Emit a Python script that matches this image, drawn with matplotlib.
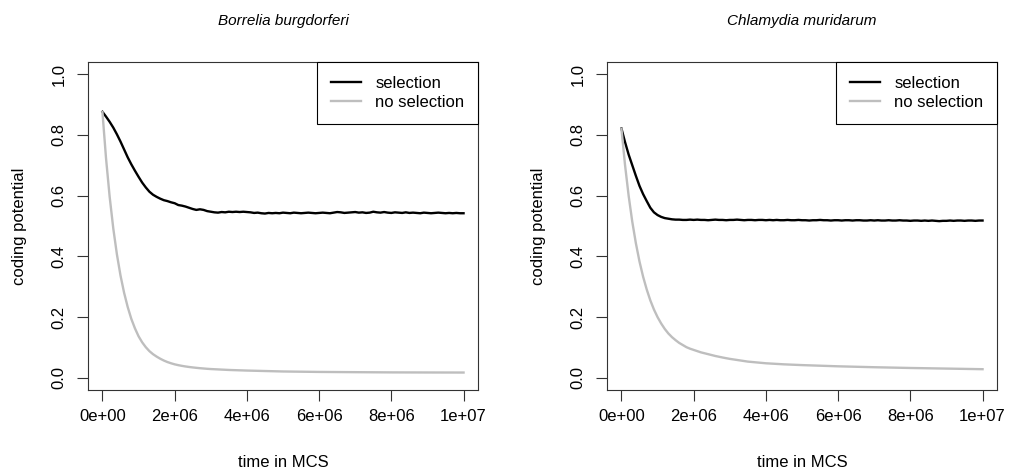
import numpy as np
import matplotlib
matplotlib.use('Agg')
import matplotlib.pyplot as plt

plt.rcParams['font.family'] = ['Liberation Sans', 'DejaVu Sans']

# ---------------- data ----------------
titles = ['Borrelia burgdorferi', 'Chlamydia muridarum']
series_labels = ['selection', 'no selection']
xlabel_text = 'time in MCS'
ylabel_text = 'coding potential'
xticks = [0, 2e6, 4e6, 6e6, 8e6, 1e7]
xtick_labels = ['0e+00', '2e+06', '4e+06', '6e+06', '8e+06', '1e+07']
yticks = [0.0, 0.2, 0.4, 0.6, 0.8, 1.0]
ytick_labels = ['0.0', '0.2', '0.4', '0.6', '0.8', '1.0']

# time (millions of MCS) for the "selection" runs, every 0.1e6
t_sel = [round(i * 0.1, 1) for i in range(101)]

borrelia_sel = [
    0.876, 0.860, 0.843, 0.824, 0.802, 0.778, 0.752, 0.726, 0.703, 0.682,
    0.662, 0.643, 0.627, 0.613, 0.603, 0.596, 0.590, 0.585, 0.582, 0.578,
    0.575, 0.569, 0.567, 0.564, 0.560, 0.556, 0.553, 0.555, 0.553, 0.549,
    0.547, 0.545, 0.544, 0.546, 0.545, 0.547, 0.546, 0.547, 0.546, 0.547,
    0.546, 0.545, 0.543, 0.544, 0.542, 0.541, 0.543, 0.542, 0.543, 0.542,
    0.544, 0.543, 0.542, 0.544, 0.543, 0.542, 0.543, 0.544, 0.543, 0.542,
    0.543, 0.544, 0.543, 0.542, 0.544, 0.546, 0.545, 0.543, 0.544, 0.545,
    0.546, 0.544, 0.545, 0.543, 0.544, 0.547, 0.545, 0.544, 0.546, 0.544,
    0.543, 0.545, 0.544, 0.543, 0.545, 0.543, 0.544, 0.543, 0.542, 0.544,
    0.543, 0.542, 0.543, 0.544, 0.543, 0.542, 0.543, 0.542, 0.543, 0.542,
    0.542,
]

chlamydia_sel = [
    0.821, 0.776, 0.735, 0.700, 0.665, 0.632, 0.605, 0.582, 0.560, 0.545,
    0.536, 0.530, 0.526, 0.524, 0.522, 0.521, 0.521, 0.520, 0.520, 0.521,
    0.520, 0.521, 0.520, 0.520, 0.519, 0.520, 0.521, 0.520, 0.520, 0.519,
    0.520, 0.520, 0.521, 0.520, 0.519, 0.520, 0.520, 0.519, 0.520, 0.520,
    0.519, 0.520, 0.519, 0.520, 0.519, 0.519, 0.520, 0.519, 0.519, 0.520,
    0.519, 0.519, 0.518, 0.519, 0.519, 0.520, 0.519, 0.519, 0.518, 0.519,
    0.519, 0.518, 0.519, 0.519, 0.518, 0.519, 0.519, 0.518, 0.518, 0.519,
    0.518, 0.519, 0.518, 0.518, 0.519, 0.518, 0.518, 0.519, 0.518, 0.518,
    0.517, 0.518, 0.518, 0.517, 0.518, 0.517, 0.518, 0.517, 0.516, 0.517,
    0.517, 0.518, 0.517, 0.518, 0.518, 0.517, 0.518, 0.518, 0.517, 0.518,
    0.518,
]

# time (millions of MCS) for the "no selection" runs
t_nosel = [0.0, 0.1, 0.2, 0.3, 0.4, 0.5, 0.6, 0.7, 0.8, 0.9,
           1.0, 1.1, 1.2, 1.3, 1.4, 1.5, 1.6, 1.7, 1.8, 1.9,
           2.0, 2.1, 2.2, 2.3, 2.4, 2.5, 2.6, 2.7, 2.8, 2.9,
           3.0, 3.5, 4.0, 4.5, 5.0, 6.0, 7.0, 8.0, 9.0, 10.0]

borrelia_nosel = [0.875, 0.722, 0.596, 0.492, 0.407, 0.337, 0.280, 0.233,
                  0.194, 0.163, 0.137, 0.117, 0.101, 0.088, 0.078, 0.070,
                  0.063, 0.057, 0.052, 0.048, 0.0445, 0.0418, 0.0395,
                  0.0375, 0.0358, 0.0343, 0.033, 0.0318, 0.0308, 0.0298,
                  0.029, 0.026, 0.024, 0.0225, 0.021, 0.0195, 0.0187,
                  0.018, 0.0177, 0.0175]

chlamydia_nosel = [0.820, 0.700, 0.599, 0.514, 0.443, 0.383, 0.333, 0.291,
                   0.255, 0.225, 0.200, 0.179, 0.161, 0.146, 0.134, 0.124,
                   0.115, 0.108, 0.101, 0.096, 0.092, 0.088, 0.084, 0.081,
                   0.078, 0.075, 0.072, 0.0695, 0.067, 0.0647, 0.0625,
                   0.0535, 0.048, 0.0445, 0.042, 0.038, 0.035, 0.0325,
                   0.0305, 0.0285]

panels = [
    (titles[0], borrelia_sel, borrelia_nosel),
    (titles[1], chlamydia_sel, chlamydia_nosel),
]

# ---------------- figure ----------------
W, H = 1010, 469
fig = plt.figure(figsize=(W / 100, H / 100), dpi=100)

ax_left_px = [88, 607]
ax_top_px, ax_bot_px, ax_w_px = 62, 390, 390

for i, (title, sel, nosel) in enumerate(panels):
    lpx = ax_left_px[i]
    ax = fig.add_axes([lpx / W, (H - ax_bot_px) / H, ax_w_px / W,
                       (ax_bot_px - ax_top_px) / H])
    ts = np.array(t_sel) * 1e6
    tn = np.array(t_nosel) * 1e6
    ax.plot(ts, sel, color='black', lw=1.7, label=series_labels[0],
            solid_joinstyle='round')
    ax.plot(tn, nosel, color='#BEBEBE', lw=1.7, label=series_labels[1],
            solid_joinstyle='round')
    ax.set_xlim(-0.04e7, 1.04e7)
    ax.set_ylim(-0.04, 1.04)
    ax.set_xticks(xticks)
    ax.set_xticklabels(xtick_labels)
    ax.set_yticks(yticks)
    ax.set_yticklabels(ytick_labels, rotation=90, va='center')
    ax.tick_params(direction='out', length=7.8, width=0.8, labelsize=12,
                   color='#333333')
    ax.tick_params(axis='x', pad=6)
    ax.tick_params(axis='y', pad=7.5)
    for s in ax.spines.values():
        s.set_linewidth(0.8)
        s.set_color('#333333')
    leg = ax.legend(loc='upper right', borderaxespad=0, fancybox=False,
                    edgecolor='black', framealpha=1, handlelength=1.8,
                    handletextpad=0.85, borderpad=0.82, labelspacing=0.26,
                    fontsize=12)
    leg.get_frame().set_linewidth(0.8)

    cx = lpx + ax_w_px / 2
    fig.text(cx / W, 1 - 21 / H, title, style='italic', fontsize=11,
             ha='center', va='center')
    fig.text(cx / W, 1 - 462 / H, xlabel_text, fontsize=12,
             ha='center', va='center')
    fig.text((lpx - 68) / W, 1 - ((ax_top_px + ax_bot_px) / 2) / H,
             ylabel_text, fontsize=12, rotation=90, ha='center', va='center')

fig.savefig('out.png', dpi=100)
